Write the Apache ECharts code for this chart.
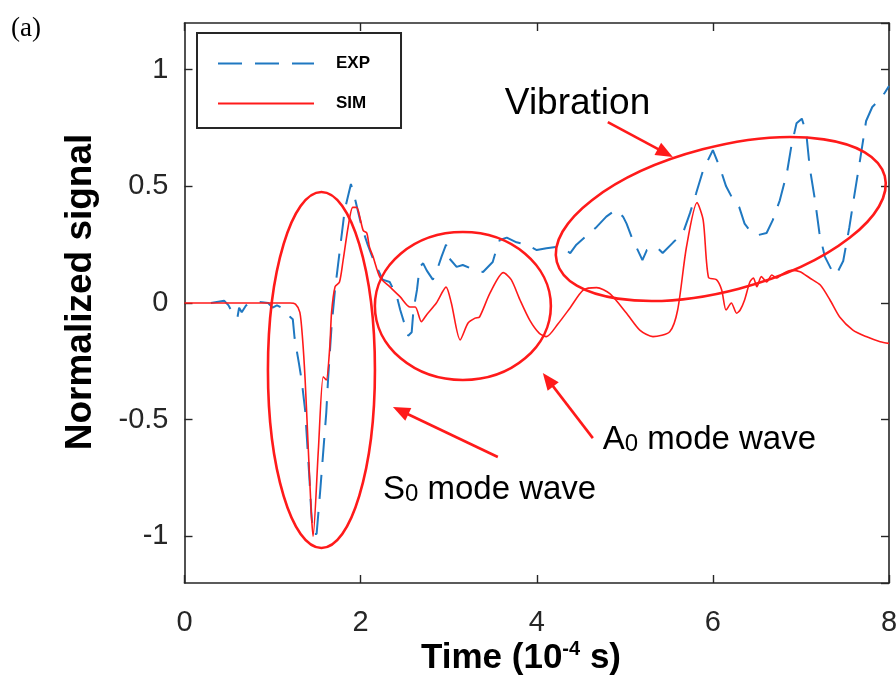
<!DOCTYPE html>
<html>
<head>
<meta charset="utf-8">
<script src="https://cdn.jsdelivr.net/npm/echarts@6/dist/echarts.min.js"></script>
<style>
html,body{margin:0;padding:0;background:#fff;}
#main{width:896px;height:679px;}
</style>
</head>
<body>
<div id="main"></div>
<script>
// time in 1e-4 s, normalized signal
var expTime = [0.3, 0.45, 0.5, 0.54, 0.6, 0.62, 0.65, 0.7, 0.75, 0.85, 0.95, 1.0, 1.05, 1.1, 1.15, 1.2, 1.23, 1.25, 1.3, 1.33,
    1.37, 1.42, 1.44, 1.46, 1.5, 1.54, 1.575, 1.61, 1.63, 1.67, 1.71, 1.765, 1.82, 1.89, 1.94, 2.01, 2.08, 2.14, 2.25, 2.33,
    2.41, 2.45, 2.52, 2.54, 2.58, 2.6, 2.64, 2.67, 2.71, 2.75, 2.82, 2.88, 2.92, 2.97, 3.01, 3.09, 3.16, 3.24, 3.31, 3.39,
    3.5, 3.54, 3.58, 3.66, 3.77, 3.88, 4.0, 4.11, 4.22, 4.33, 4.38, 4.45, 4.57, 4.68, 4.79, 4.9, 4.98, 5.02, 5.08, 5.13,
    5.2, 5.25, 5.36, 5.43, 5.55, 5.66, 5.74, 5.81, 5.89, 6.0, 6.08, 6.15, 6.22, 6.3, 6.36, 6.42, 6.5, 6.61, 6.68, 6.76,
    6.84, 6.89, 6.95, 7.01, 7.06, 7.1, 7.16, 7.21, 7.27, 7.35, 7.4, 7.48, 7.55, 7.61, 7.67, 7.74, 7.81, 7.89, 7.95, 8.0];
var expSignal = [0, 0.01, -0.01, -0.04, -0.065, -0.02, -0.04, -0.01, 0, 0.005, 0, -0.02, -0.01, -0.02, -0.035, -0.06, -0.07, -0.15, -0.26, -0.33,
    -0.46, -0.76, -0.9, -0.99, -0.99, -0.81, -0.64, -0.47, -0.33, -0.1, 0.06, 0.23, 0.4, 0.51, 0.44, 0.33, 0.25, 0.19, 0.1, 0.09,
    0.03, -0.03, -0.116, -0.14, -0.125, -0.03, 0.056, 0.155, 0.17, 0.14, 0.1, 0.155, 0.2, 0.25, 0.19, 0.155, 0.163, 0.15, 0.14, 0.133,
    0.176, 0.227, 0.27, 0.28, 0.26, 0.25, 0.227, 0.235, 0.24, 0.227, 0.214, 0.25, 0.29, 0.326, 0.37, 0.4, 0.37, 0.34, 0.28, 0.24,
    0.184, 0.227, 0.24, 0.214, 0.26, 0.3, 0.385, 0.47, 0.57, 0.655, 0.58, 0.5, 0.45, 0.41, 0.34, 0.31, 0.29, 0.3, 0.355, 0.44,
    0.556, 0.67, 0.77, 0.79, 0.73, 0.58, 0.44, 0.3, 0.2, 0.14, 0.12, 0.18, 0.325, 0.47, 0.61, 0.78, 0.84, 0.87, 0.9, 0.93];

var simTime = [0, 1.0, 1.2, 1.26, 1.31, 1.34, 1.37, 1.405, 1.44, 1.46, 1.52, 1.575, 1.61, 1.65, 1.67, 1.71, 1.76, 1.8, 1.86, 1.91,
    1.955, 1.99, 2.03, 2.07, 2.1, 2.14, 2.22, 2.33, 2.45, 2.56, 2.62, 2.69, 2.75, 2.86, 2.97, 3.03, 3.13, 3.22, 3.3, 3.35,
    3.47, 3.62, 3.71, 3.81, 3.92, 4.03, 4.11, 4.24, 4.38, 4.53, 4.68, 4.83, 5.02, 5.17, 5.32, 5.51, 5.6, 5.7, 5.82,
    5.89, 5.95, 6.04, 6.1, 6.15, 6.21, 6.27, 6.31, 6.36, 6.42, 6.46, 6.5, 6.55, 6.61, 6.67, 6.72, 6.8, 6.89, 6.99, 7.1,
    7.22, 7.33, 7.44, 7.59, 7.74, 7.9, 8.0];
var simSignal = [0, 0, 0, -0.005, -0.04, -0.15, -0.33, -0.62, -0.9, -1.0, -0.63, -0.316, -0.33, -0.187, -0.04, 0.07, 0.09, 0.18, 0.33, 0.41,
    0.41, 0.37, 0.31, 0.3, 0.24, 0.2, 0.11, 0.07, 0.026, -0.017, -0.017, -0.08, -0.05, 0, 0.068, 0, -0.158, -0.086, -0.065, -0.06,
    0.043, 0.13, 0.1, 0.013, -0.073, -0.13, -0.144, -0.09, -0.02, 0.056, 0.066, 0.04, -0.044, -0.116, -0.144, -0.123, -0.03, 0.24, 0.43,
    0.355, 0.11, 0.1, 0.056, -0.03, 0, -0.044, -0.03, 0.013, 0.09, 0.107, 0.07, 0.113, 0.09, 0.12, 0.107, 0.127, 0.14, 0.134, 0.107,
    0.077, 0.013, -0.06, -0.116, -0.144, -0.166, -0.173];

var seriesNames = ['EXP', 'SIM'];

var RED = '#ff1a1a';
var BLUE = '#1f78c1';
var AXIS = '#262626';
var FONT = '"Liberation Sans", Arial, sans-serif';

function pairs(xs, ys) {
    var out = [];
    for (var i = 0; i < xs.length; i++) out.push([xs[i], ys[i]]);
    return out;
}

var myChart = echarts.init(document.getElementById('main'));

function boxAxis(pos, isX, showLabel) {
    var ax = {
        type: 'value',
        position: pos,
        min: isX ? 0 : -1.2,
        max: isX ? 8 : 1.2,
        splitLine: {show: false},
        axisLine: {show: true, onZero: false, lineStyle: {color: AXIS, width: 1.6}},
        axisTick: {show: true, inside: true, length: 8, lineStyle: {color: AXIS, width: 1.4}},
        axisLabel: {
            show: showLabel,
            color: AXIS,
            fontFamily: FONT,
            fontSize: 29,
            margin: isX ? 25 : 16,
            showMinLabel: isX,
            showMaxLabel: isX
        }
    };
    if (isX) ax.interval = 2; else ax.splitNumber = 5;
    return ax;
}

var option = {
    animation: false,
    backgroundColor: '#fff',
    grid: {left: 184.5, right: 7, top: 23, bottom: 96, outerBoundsMode: 'none'},
    xAxis: [boxAxis('bottom', true, true), boxAxis('top', true, false)],
    yAxis: [boxAxis('left', false, true), boxAxis('right', false, false)],
    legend: {
        data: seriesNames,
        orient: 'vertical',
        left: 197,
        top: 33,
        itemWidth: 96,
        itemHeight: 14,
        itemGap: 23,
        padding: [22, 31, 16, 20],
        borderColor: AXIS,
        borderWidth: 2,
        backgroundColor: '#fff',
        z: 10,
        itemStyle: {color: 'rgba(0,0,0,0)', borderWidth: 0, opacity: 0},
        textStyle: {fontFamily: FONT, fontWeight: 'bold', fontSize: 17, color: '#000', padding: [0, 0, 0, 17]}
    },
    series: [
        {
            name: seriesNames[0],
            type: 'line',
            data: pairs(expTime, expSignal),
            symbol: 'none',
            z: 3,
            lineStyle: {color: BLUE, width: 2, type: [24, 13]},
            itemStyle: {color: BLUE}
        },
        {
            name: seriesNames[1],
            type: 'line',
            data: pairs(simTime, simSignal),
            symbol: 'none',
            smooth: 0.25,
            z: 4,
            lineStyle: {color: RED, width: 1.6},
            itemStyle: {color: RED}
        }
    ]
};
myChart.setOption(option);

// annotations (ellipses, arrows, labels), anchored in data coordinates
function toPx(p) {
    return myChart.convertToPixel({seriesIndex: 0}, p);
}
function ellipse(center, rx, ry, deg) {
    var c = toPx(center);
    return {
        type: 'ellipse', x: c[0], y: c[1], rotation: deg * Math.PI / 180, z: 20,
        shape: {cx: 0, cy: 0, rx: rx, ry: ry},
        style: {fill: 'none', stroke: RED, lineWidth: 2.6}
    };
}
function arrow(tail, tip) {
    var a = toPx(tail), b = toPx(tip);
    var dx = b[0] - a[0], dy = b[1] - a[1];
    var len = Math.sqrt(dx * dx + dy * dy);
    var ux = dx / len, uy = dy / len, hl = 17, hw = 7;
    var bx = b[0] - ux * hl, by = b[1] - uy * hl;
    return [
        {type: 'line', z: 20, shape: {x1: a[0], y1: a[1], x2: bx + ux * 2, y2: by + uy * 2}, style: {stroke: RED, lineWidth: 2.6}},
        {type: 'polygon', z: 20, shape: {points: [[b[0], b[1]], [bx - uy * hw, by + ux * hw], [bx + uy * hw, by - ux * hw]]}, style: {fill: RED}}
    ];
}
function label(at, big, sub, rest, size) {
    var p = toPx(at);
    return {
        type: 'text', x: p[0], y: p[1], z: 20,
        style: {
            text: '{a|' + big + '}' + (sub ? '{b|' + sub + '}' : '') + '{a|' + rest + '}',
            align: 'left', verticalAlign: 'middle',
            rich: {
                a: {fontFamily: FONT, fontSize: size, fill: '#000', lineHeight: size, verticalAlign: 'bottom'},
                b: {fontFamily: FONT, fontSize: Math.round(size * 0.72), fill: '#000', lineHeight: size, verticalAlign: 'bottom'}
            }
        }
    };
}

var g = [];
g.push(ellipse([1.555, -0.287], 53.5, 178, 0));
g.push(ellipse([3.161, -0.013], 88, 74, 0));
g.push(ellipse([6.09, 0.36], 169.5, 72, 14.7));
g = g.concat(arrow([4.807, 0.775], [5.545, 0.626]));
g = g.concat(arrow([4.637, -0.579], [4.069, -0.30]));
g = g.concat(arrow([3.558, -0.66], [2.367, -0.446]));
g.push(label([3.638, 0.853], 'Vibration', '', '', 37));
g.push(label([4.75, -0.587], 'A', '0', ' mode wave', 33));
g.push(label([2.253, -0.80], 'S', '0', ' mode wave', 33));
g.push({
    type: 'text', x: 26, y: 29,
    style: {text: '(a)', font: '27px "Liberation Serif", "Times New Roman", serif', fill: '#000', align: 'center', verticalAlign: 'middle'}
});
g.push({
    type: 'text', x: 81, y: 292, rotation: Math.PI / 2,
    style: {text: 'Normalized signal', font: 'bold 37px ' + FONT, fill: '#000', align: 'center', verticalAlign: 'middle'}
});
g.push({
    type: 'text', x: 521, y: 658,
    style: {
        text: '{a|Time (10}{b|-4}{a| s)}',
        align: 'center', verticalAlign: 'middle',
        rich: {
            a: {fontFamily: FONT, fontWeight: 'bold', fontSize: 35, fill: '#000', lineHeight: 38},
            b: {fontFamily: FONT, fontWeight: 'bold', fontSize: 20, fill: '#000', lineHeight: 38, verticalAlign: 'top'}
        }
    }
});
myChart.setOption({graphic: g});
</script>
</body>
</html>
